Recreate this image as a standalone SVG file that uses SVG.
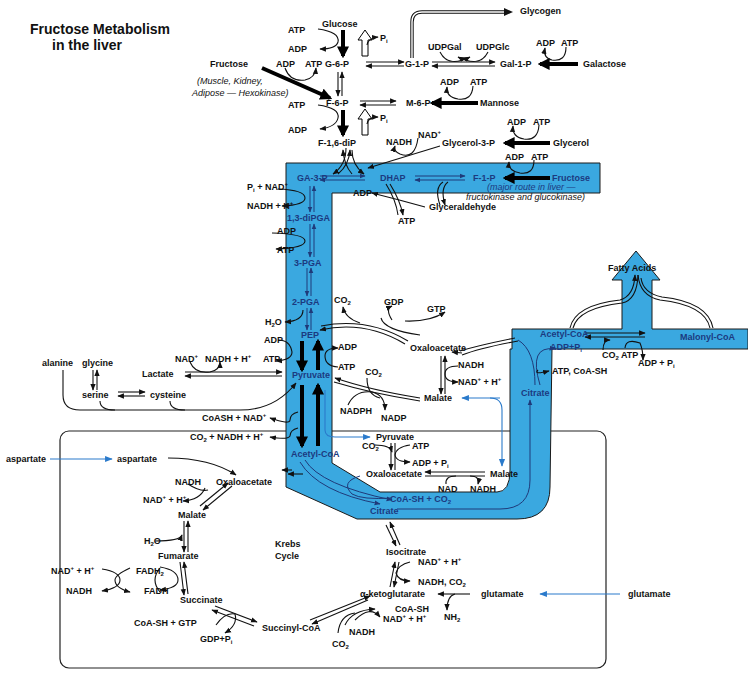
<svg xmlns="http://www.w3.org/2000/svg" width="748" height="675" viewBox="0 0 748 675">
<style>
text{font-family:"Liberation Sans",Arial,sans-serif;font-size:9px;font-weight:bold;fill:#111}
.bl{fill:#1c3a80}
.it{font-style:italic;font-weight:normal}
.ttl{font-size:14px}
.ln{fill:none;stroke:#111;stroke-width:1.1}
.bln{fill:none;stroke:#1f3a7a;stroke-width:1}
.blue{fill:none;stroke:#2a7acb;stroke-width:1.1}
.thick{fill:none;stroke:#000;stroke-width:4}
.open{fill:#fff;stroke:#000;stroke-width:1}
.dbl{fill:none;stroke:#111;stroke-width:3.4}
.dbi{fill:none;stroke:#fff;stroke-width:1.4}
</style>
<defs>
<marker id="a" viewBox="0 0 10 10" refX="9" refY="5" markerWidth="6" markerHeight="6" orient="auto"><path d="M0,1 L10,5 L0,9 z" fill="#111"/></marker>
<marker id="ab" viewBox="0 0 10 10" refX="9" refY="5" markerWidth="7" markerHeight="7" orient="auto"><path d="M0,1 L10,5 L0,9 z" fill="#2a7acb"/></marker>
<marker id="ad" viewBox="0 0 10 10" refX="9" refY="5" markerWidth="6" markerHeight="6" orient="auto"><path d="M0,1 L10,5 L0,9 z" fill="#1f3a7a"/></marker>
<marker id="big" viewBox="0 0 10 10" refX="8" refY="5" markerWidth="3" markerHeight="3" orient="auto"><path d="M0,0 L10,5 L0,10 z" fill="#000"/></marker>
</defs>

<rect id="krebsBox" x="60" y="431" width="546" height="237" rx="9" fill="none" stroke="#222" stroke-width="1.2"/>

<g id="band">
<path d="M286,163 L600,163 L600,193 L332,193 L332,463 L380,492 L497,492 Q510,492 510,470 L510,349 L512,349 L512,329 L622,329 L622,280 L612,280 L636,251 L660,280 L652,280 L652,329 L748,329 L748,349 L552,349 L550,487 Q550,519 517,519 L357,519 L286,487 Z" fill="#3aa8e0" stroke="#1a1a1a" stroke-width="1"/>
</g>

<g id="connectors">
<path d="M412,58 L412,22 Q412,12 422,12 L505,12" class="dbl"/>
<path d="M412,58 L412,22 Q412,12 422,12 L505,12" class="dbi"/>
<path d="M504,8 L513,12 L504,16 Z" fill="#111"/>
<line x1="343" y1="30" x2="343" y2="56" class="thick" marker-end="url(#big)"/>
<polygon points="362,56 368,56 368,40 372,40 365,30 358,40 362,40" class="open"/>
<path d="M318,29 Q340,32 338,42 Q336,49 320,49" class="ln" marker-end="url(#a)"/>
<path d="M367,45 Q368,38 378,37" class="ln" marker-end="url(#a)"/>
<path d="M366,62 L404,62" class="ln" marker-end="url(#a)"/><path d="M404,66 L366,66" class="ln" marker-end="url(#a)"/>
<path d="M432,62 L495,62" class="ln" marker-end="url(#a)"/><path d="M495,66 L432,66" class="ln" marker-end="url(#a)"/>
<path d="M440,52 Q448,68 470,57" class="ln" marker-end="url(#a)"/>
<path d="M488,52 Q480,68 458,57" class="ln" marker-end="url(#a)"/>
<line x1="578" y1="64" x2="540" y2="64" class="thick" marker-end="url(#big)"/>
<path d="M566,47 Q566,62 552,60 Q543,58 545,48" class="ln" marker-end="url(#a)"/>
<line x1="262" y1="68" x2="330" y2="98" class="thick" marker-end="url(#big)"/>
<path d="M285,68 Q290,82 305,80 Q315,78 316,68" class="ln" marker-end="url(#a)"/>
<path d="M338,72 L338,96" class="ln" marker-end="url(#a)"/><path d="M342,96 L342,72" class="ln" marker-end="url(#a)"/>
<path d="M360,101 L396,101" class="ln" marker-end="url(#a)"/><path d="M396,105 L360,105" class="ln" marker-end="url(#a)"/>
<line x1="478" y1="103" x2="432" y2="103" class="thick" marker-end="url(#big)"/>
<path d="M473,86 Q472,101 458,99 Q446,97 447,87" class="ln" marker-end="url(#a)"/>
<line x1="343" y1="110" x2="343" y2="135" class="thick" marker-end="url(#big)"/>
<polygon points="362,135 368,135 368,119 372,119 365,109 358,119 362,119" class="open"/>
<path d="M318,105 Q340,108 338,118 Q336,127 320,129" class="ln" marker-end="url(#a)"/>
<path d="M367,124 Q368,117 378,117" class="ln" marker-end="url(#a)"/>
<line x1="550" y1="143" x2="505" y2="143" class="thick" marker-end="url(#big)"/>
<path d="M539,125 Q538,141 524,139 Q512,137 513,126" class="ln" marker-end="url(#a)"/>
<path d="M440,146 L368,168" class="ln" marker-end="url(#a)"/>
<path d="M418,138 Q415,160 400,154 Q393,151 395,146" class="ln" marker-end="url(#a)"/>
<path d="M346,148 Q346,165 333,174" class="ln" marker-end="url(#a)"/>
<path d="M352,174 Q344,165 343,150" class="ln" marker-end="url(#a)"/>
<path d="M352,150 Q352,165 364,174" class="ln" marker-end="url(#a)"/>
<path d="M338,174 Q349,165 350,150" class="ln" marker-end="url(#a)"/>
<path d="M320,176 L365,176" class="bln" marker-end="url(#ad)"/><path d="M365,180 L320,180" class="bln" marker-end="url(#ad)"/>
<path d="M415,176 L465,176" class="bln" marker-end="url(#ad)"/><path d="M465,180 L415,180" class="bln" marker-end="url(#ad)"/>
<line x1="550" y1="178" x2="505" y2="178" class="thick" marker-end="url(#big)"/>
<path d="M534,160 Q534,175 520,173 Q508,171 509,162" class="ln" marker-end="url(#a)"/>
<path d="M448,182 Q440,188 445,205" class="ln" marker-end="url(#a)"/>
<path d="M443,182 Q434,188 440,205" class="ln"/>
<path d="M425,207 Q400,200 372,193" class="ln" marker-end="url(#a)"/>
<path d="M390,184 Q400,200 403,215" class="ln" marker-end="url(#a)"/>
<path d="M386,184 Q396,200 398,215" class="ln"/>
<path d="M310,186 L310,212" class="bln" marker-end="url(#ad)"/><path d="M314,212 L314,186" class="bln" marker-end="url(#ad)"/>
<path d="M278,189 Q305,190 305,198 Q305,205 282,206" class="ln" marker-end="url(#a)"/>
<path d="M310,224 L310,257" class="bln" marker-end="url(#ad)"/><path d="M314,257 L314,224" class="bln" marker-end="url(#ad)"/>
<path d="M272,233 Q305,234 305,241 Q305,248 276,249" class="ln" marker-end="url(#a)"/>
<path d="M307,268 L307,296" class="bln" marker-end="url(#ad)"/><path d="M311,296 L311,268" class="bln" marker-end="url(#ad)"/>
<path d="M307,308 L307,330" class="bln" marker-end="url(#ad)"/><path d="M311,330 L311,308" class="bln" marker-end="url(#ad)"/>
<path d="M303,310 Q303,321 285,322" class="ln" marker-end="url(#a)"/>
<line x1="302" y1="341" x2="302" y2="370" class="thick" marker-end="url(#big)"/>
<line x1="318" y1="370" x2="318" y2="341" class="thick" marker-end="url(#big)"/>
<path d="M278,340 Q290,340 292,352 Q292,360 276,361" class="ln" marker-end="url(#a)"/>
<path d="M338,367 Q325,366 325,356 Q325,348 338,348" class="ln" marker-end="url(#a)"/>
<path d="M405,344 Q365,320 320,330" class="ln" marker-end="url(#a)"/>
<path d="M408,341 Q368,317 321,326" class="ln"/>
<path d="M360,323 Q345,318 343,307" class="ln" marker-end="url(#a)"/>
<path d="M381,318 Q384,330 420,335" class="ln"/>
<path d="M392,320 Q385,309 392,306" class="ln" marker-end="url(#a)"/>
<path d="M405,321 Q430,322 445,312" class="ln" marker-end="url(#a)"/>
<path d="M441,356 L441,394" class="ln" marker-end="url(#a)"/><path d="M445,394 L445,356" class="ln" marker-end="url(#a)"/>
<path d="M458,366 Q445,366 445,374 Q445,382 458,382" class="ln" marker-end="url(#a)"/>
<path d="M420,398 Q370,390 335,378" class="ln" marker-end="url(#a)"/>
<path d="M420,401 Q370,393 334,382" class="ln"/>
<path d="M367,378 Q367,395 380,398" class="ln"/>
<path d="M348,405 Q355,390 372,392 Q385,395 385,410" class="ln" marker-end="url(#a)"/>
<path d="M500,398 L462,398" class="blue" marker-end="url(#ab)"/>
<path d="M490,398 Q502,398 502,410 L502,466" class="blue" marker-end="url(#ab)"/>
<path d="M185,372 L282,372" class="ln" marker-end="url(#a)"/><path d="M282,376 L185,376" class="ln" marker-end="url(#a)"/>
<path d="M190,362 Q195,374 210,372 Q220,370 220,362" class="ln" marker-end="url(#a)"/>
<path d="M63,370 L63,395 Q63,410 80,410 L240,410 Q275,410 296,383" class="ln" marker-end="url(#a)"/>
<path d="M100,401 Q100,410 115,410" class="ln"/>
<path d="M170,401 Q170,410 185,410" class="ln"/>
<path d="M93,370 L93,390" class="ln" marker-end="url(#a)"/><path d="M97,390 L97,370" class="ln" marker-end="url(#a)"/>
<path d="M118,392 L145,392" class="ln" marker-end="url(#a)"/><path d="M145,396 L118,396" class="ln" marker-end="url(#a)"/>
<line x1="302" y1="385" x2="302" y2="446" class="thick" marker-end="url(#big)"/>
<line x1="318" y1="446" x2="318" y2="385" class="thick" marker-end="url(#big)"/>
<path d="M298,412 Q290,414 290,420 Q290,425 270,418" class="ln" marker-end="url(#a)"/>
<path d="M298,428 Q290,430 290,436 Q288,440 270,437" class="ln" marker-end="url(#a)"/>
<path d="M325,390 L325,430 Q325,437 335,437 L370,437" class="blue" marker-end="url(#ab)"/>
<path d="M391,443 L391,470" class="ln" marker-end="url(#a)"/><path d="M395,443 L395,470" class="ln"/>
<path d="M375,445 Q390,445 392,452" class="ln" marker-end="url(#a)"/>
<path d="M410,445 Q396,447 395,455 Q396,462 410,462" class="ln" marker-end="url(#a)"/>
<path d="M485,472 L425,472" class="ln" marker-end="url(#a)"/><path d="M425,476 L485,476" class="ln"/>
<path d="M446,484 Q445,476 456,476" class="ln"/>
<path d="M470,476 Q480,476 478,484" class="ln" marker-end="url(#a)"/>
<path d="M305,460 Q320,485 392,500" class="bln" marker-end="url(#ad)"/>
<path d="M300,462 Q318,492 380,504" class="bln" marker-end="url(#ad)"/>
<path d="M360,476 Q340,482 352,494 Q362,500 392,498" class="bln"/>
<path d="M303,474 L288,474" class="ln" marker-end="url(#a)"/>
<path d="M397,509 L500,509 Q530,509 530,480 L530,400" class="bln" marker-end="url(#ad)"/>
<path d="M535,385 Q535,350 518,340" class="bln"/>
<path d="M540,385 Q528,345 555,349" class="bln" marker-end="url(#ad)"/>
<path d="M538,370 Q533,375 549,371" class="ln" marker-end="url(#a)"/>
<path d="M515,338 Q480,345 460,351 M518,341 Q480,348 462,355" class="ln"/>
<path d="M462,353 L452,352" class="ln" marker-end="url(#a)"/>
<path d="M585,333 L645,333" class="ln" marker-end="url(#a)"/><path d="M645,337 L585,337" class="ln" marker-end="url(#a)"/>
<path d="M603,350 Q603,340 610,340" class="ln" marker-end="url(#a)"/>
<path d="M625,348 Q626,338 640,343 Q643,350 643,360" class="ln" marker-end="url(#a)"/>
<path d="M570,328 Q575,305 620,300 Q634,296 635,275" class="ln" marker-end="url(#a)"/>
<path d="M573,328 Q578,308 622,303 Q637,300 638,275" class="ln"/>
<path d="M710,328 Q705,305 660,300 Q640,296 638,275" class="ln"/>
<path d="M713,328 Q708,302 662,297 Q643,293 641,278" class="ln"/>
<path d="M50,459 L112,459" class="blue" marker-end="url(#ab)"/>
<path d="M168,458 Q210,458 236,475" class="ln" marker-end="url(#a)"/>
<path d="M292,470 L282,470" class="ln" marker-end="url(#a)"/>
<path d="M232,486 L203,510" class="ln" marker-end="url(#a)"/><path d="M200,506 L228,483" class="ln" marker-end="url(#a)"/>
<path d="M188,484 Q200,492 208,490" class="ln"/><path d="M205,488 Q200,500 183,501" class="ln" marker-end="url(#a)"/>
<path d="M184,521 L184,552" class="ln" marker-end="url(#a)"/><path d="M188,552 L188,521" class="ln" marker-end="url(#a)"/>
<path d="M155,541 Q180,541 182,535" class="ln" marker-end="url(#a)"/>
<path d="M180,562 L184,595" class="ln" marker-end="url(#a)"/><path d="M188,594 L184,562" class="ln" marker-end="url(#a)"/>
<path d="M160,567 Q178,570 178,580 Q178,588 160,590" class="ln" marker-end="url(#a)"/>
<path d="M160,592 Q150,580 160,568" class="ln"/>
<path d="M102,569 Q120,572 120,580 Q120,588 102,591" class="ln" marker-end="url(#a)"/>
<path d="M130,568 Q115,575 115,580 Q115,588 130,592" class="ln" marker-end="url(#a)"/>
<path d="M215,606 L257,622" class="ln" marker-end="url(#a)"/><path d="M254,626 L212,610" class="ln" marker-end="url(#a)"/>
<path d="M216,625 Q225,612 235,614 Q238,625 225,633" class="ln" marker-end="url(#a)"/>
<path d="M310,620 L370,596" class="ln" marker-end="url(#a)"/><path d="M368,600 L312,624" class="ln" marker-end="url(#a)"/>
<path d="M338,633 Q340,615 355,613" class="ln"/>
<path d="M345,625 Q352,610 375,609" class="ln" marker-end="url(#a)"/>
<path d="M355,620 Q370,605 380,617" class="ln" marker-end="url(#a)"/>
<path d="M390,587 L395,562" class="ln" marker-end="url(#a)"/><path d="M399,562 L394,587" class="ln" marker-end="url(#a)"/>
<path d="M410,562 Q398,565 396,573 Q398,581 410,581" class="ln" marker-end="url(#a)"/>
<path d="M400,545 L390,522" class="ln" marker-end="url(#a)"/><path d="M386,525 L396,546" class="ln" marker-end="url(#a)"/>
<path d="M470,594 L438,594" class="ln" marker-end="url(#a)"/>
<path d="M455,594 Q447,596 447,610" class="ln" marker-end="url(#a)"/>
<path d="M620,594 L540,594" class="blue" marker-end="url(#ab)"/>
</g>

<g id="labels">
<text class="ttl" x="30" y="34">Fructose Metabolism</text>
<text class="ttl" x="52" y="50">in the liver</text>
<text x="520" y="14">Glycogen</text>
<text x="322" y="27">Glucose</text>
<text x="288" y="33">ATP</text><text x="288" y="52">ADP</text>
<text x="380" y="41">P<tspan font-size="6" dy="2">i</tspan></text>
<text x="325" y="67">G-6-P</text><text x="405" y="67">G-1-P</text>
<text x="428" y="50">UDPGal</text><text x="476" y="50">UDPGlc</text>
<text x="536" y="46">ADP</text><text x="561" y="46">ATP</text>
<text x="500" y="67">Gal-1-P</text><text x="583" y="67">Galactose</text>
<text x="210" y="67">Fructose</text>
<text x="276" y="67">ADP</text><text x="305" y="67">ATP</text>
<text class="it" x="197" y="84">(Muscle, Kidney,</text>
<text class="it" x="192" y="96">Adipose — Hexokinase)</text>
<text x="326" y="106">F-6-P</text><text x="406" y="106">M-6-P</text>
<text x="440" y="85">ADP</text><text x="470" y="85">ATP</text>
<text x="480" y="106">Mannose</text>
<text x="288" y="108">ATP</text><text x="288" y="133">ADP</text>
<text x="380" y="121">P<tspan font-size="6" dy="2">i</tspan></text>
<text x="318" y="146">F-1,6-diP</text>
<text x="386" y="145">NADH</text><text x="418" y="138">NAD<tspan font-size="6" dy="-4">+</tspan></text>
<text x="442" y="146">Glycerol-3-P</text>
<text x="507" y="125">ADP</text><text x="533" y="125">ATP</text>
<text x="553" y="146">Glycerol</text>
<text x="505" y="160">ADP</text><text x="531" y="160">ATP</text>
<text class="bl" x="297" y="181">GA-3-P</text>
<text class="bl" x="380" y="181">DHAP</text>
<text class="bl" x="473" y="181">F-1-P</text>
<text class="bl" x="552" y="181">Fructose</text>
<text class="bl it" x="487" y="190" font-size="8.5">(major route in liver —</text>
<text class="it" x="466" y="200" font-size="8.5">fructokinase and glucokinase)</text>
<text x="353" y="196">ADP</text><text x="429" y="210">Glyceraldehyde</text><text x="398" y="224">ATP</text>
<text x="247" y="190">P<tspan font-size="6" dy="2">i</tspan><tspan dy="-2"> + NAD</tspan><tspan font-size="6" dy="-4">+</tspan></text>
<text x="247" y="209">NADH + H<tspan font-size="6" dy="-4">+</tspan></text>
<text class="bl" x="287" y="221">1,3-diPGA</text>
<text x="277" y="234">ADP</text><text x="277" y="253">ATP</text>
<text class="bl" x="294" y="266">3-PGA</text>
<text class="bl" x="292" y="305">2-PGA</text>
<text x="334" y="303">CO<tspan font-size="6" dy="2">2</tspan></text>
<text x="384" y="305">GDP</text><text x="427" y="312">GTP</text>
<text x="265" y="325">H<tspan font-size="6" dy="2">2</tspan><tspan dy="-2">O</tspan></text>
<text class="bl" x="301" y="338">PEP</text>
<text x="264" y="343">ADP</text><text x="338" y="350">ADP</text>
<text x="263" y="362">ATP</text><text x="338" y="370">ATP</text>
<text class="bl" x="292" y="378">Pyruvate</text>
<text x="365" y="375">CO<tspan font-size="6" dy="2">2</tspan></text>
<text x="410" y="351">Oxaloacetate</text>
<text x="458" y="368">NADH</text>
<text x="458" y="385">NAD<tspan font-size="6" dy="-4">+</tspan><tspan dy="4"> + H</tspan><tspan font-size="6" dy="-4">+</tspan></text>
<text x="424" y="401">Malate</text>
<text x="340" y="414">NADPH</text><text x="381" y="421">NADP</text>
<text x="608" y="271">Fatty Acids</text>
<text class="bl" x="540" y="337">Acetyl-CoA</text>
<text class="bl" x="680" y="340">Malonyl-CoA</text>
<text class="bl" x="550" y="350">ADP+P<tspan font-size="6" dy="2">i</tspan></text>
<text x="602" y="358">CO<tspan font-size="6" dy="2">2</tspan><tspan dy="-2"> ATP</tspan></text>
<text x="638" y="366">ADP + P<tspan font-size="6" dy="2">i</tspan></text>
<text x="552" y="374">ATP, CoA-SH</text>
<text class="bl" x="521" y="396">Citrate</text>
<text x="42" y="366">alanine</text><text x="82" y="366">glycine</text>
<text x="142" y="377">Lactate</text>
<text x="175" y="362">NAD<tspan font-size="6" dy="-4">+</tspan></text>
<text x="205" y="362">NADH + H<tspan font-size="6" dy="-4">+</tspan></text>
<text x="82" y="398">serine</text><text x="150" y="398">cysteine</text>
<text x="202" y="421">CoASH + NAD<tspan font-size="6" dy="-4">+</tspan></text>
<text x="190" y="440">CO<tspan font-size="6" dy="2">2</tspan><tspan dy="-2"> + NADH + H</tspan><tspan font-size="6" dy="-4">+</tspan></text>
<text x="376" y="440">Pyruvate</text>
<text x="362" y="449">CO<tspan font-size="6" dy="2">2</tspan></text><text x="412" y="449">ATP</text>
<text class="bl" x="291" y="457">Acetyl-CoA</text>
<text x="412" y="466">ADP + P<tspan font-size="6" dy="2">i</tspan></text>
<text x="366" y="477">Oxaloacetate</text><text x="490" y="477">Malate</text>
<text x="438" y="492">NAD</text><text x="470" y="492">NADH</text>
<text class="bl" x="390" y="502">CoA-SH + CO<tspan font-size="6" dy="2">2</tspan></text>
<text class="bl" x="370" y="514">Citrate</text>
<text x="6" y="462">aspartate</text><text x="117" y="462">aspartate</text>
<text x="175" y="485">NADH</text><text x="216" y="485">Oxaloacetate</text>
<text x="143" y="503">NAD<tspan font-size="6" dy="-4">+</tspan><tspan dy="4"> + H</tspan><tspan font-size="6" dy="-4">+</tspan></text>
<text x="178" y="518">Malate</text>
<text x="144" y="544">H<tspan font-size="6" dy="2">2</tspan><tspan dy="-2">O</tspan></text>
<text x="275" y="547">Krebs</text><text x="275" y="559">Cycle</text>
<text x="158" y="559">Fumarate</text>
<text x="51" y="574">NAD<tspan font-size="6" dy="-4">+</tspan><tspan dy="4"> + H</tspan><tspan font-size="6" dy="-4">+</tspan></text>
<text x="136" y="574">FADH<tspan font-size="6" dy="2">2</tspan></text>
<text x="66" y="594">NADH</text><text x="144" y="594">FADH</text>
<text x="180" y="603">Succinate</text>
<text x="134" y="626">CoA-SH  +  GTP</text>
<text x="200" y="642">GDP+P<tspan font-size="6" dy="2">i</tspan></text>
<text x="262" y="631">Succinyl-CoA</text>
<text x="349" y="635">NADH</text><text x="332" y="647">CO<tspan font-size="6" dy="2">2</tspan></text>
<text x="395" y="612">CoA-SH</text>
<text x="383" y="622">NAD<tspan font-size="6" dy="-4">+</tspan><tspan dy="4"> + H</tspan><tspan font-size="6" dy="-4">+</tspan></text>
<text x="360" y="597">α-ketoglutarate</text>
<text x="481" y="597">glutamate</text><text x="628" y="597">glutamate</text>
<text x="444" y="620">NH<tspan font-size="6" dy="2">2</tspan></text>
<text x="386" y="555">Isocitrate</text>
<text x="418" y="565">NAD<tspan font-size="6" dy="-4">+</tspan><tspan dy="4"> + H</tspan><tspan font-size="6" dy="-4">+</tspan></text>
<text x="418" y="585">NADH, CO<tspan font-size="6" dy="2">2</tspan></text>
</g>
</svg>
